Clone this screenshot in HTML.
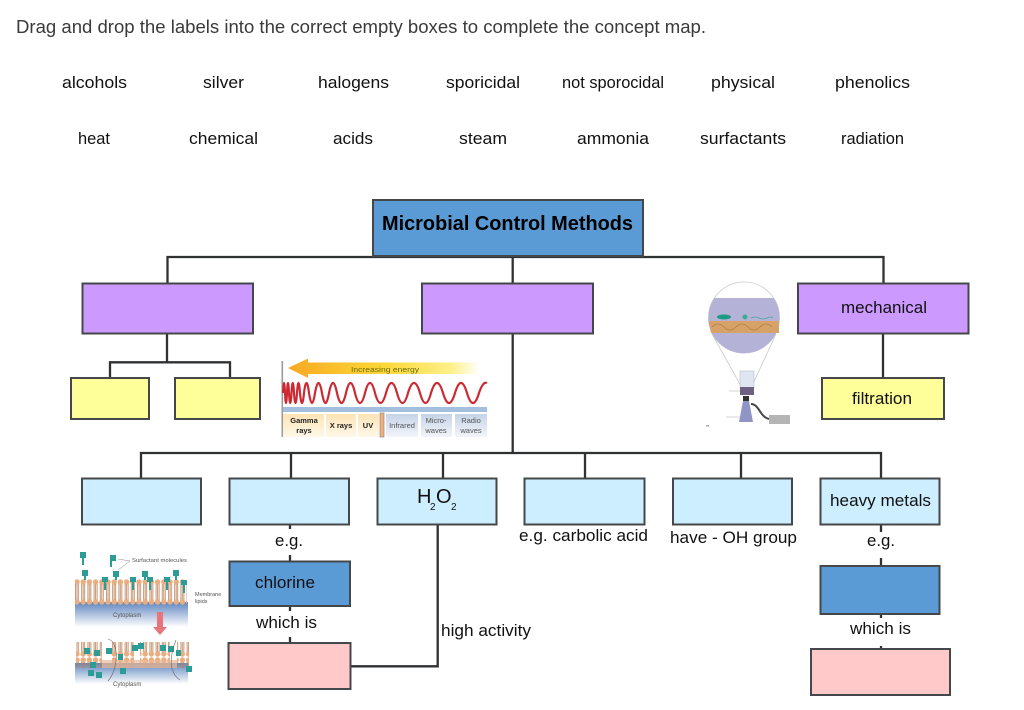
<!DOCTYPE html>
<html><head><meta charset="utf-8"><style>
html,body{margin:0;padding:0;background:#fff;width:1024px;height:710px;overflow:hidden}
svg{display:block}
text{font-family:"Liberation Sans",sans-serif;fill:#111}
.l{font-size:17px;text-anchor:start}
.b rect{stroke:#45484a;stroke-width:2}
.c path{fill:none;stroke:#2f3133;stroke-width:2.3}
</style></head><body>
<svg width="1024" height="710" viewBox="0 0 1024 710" xmlns="http://www.w3.org/2000/svg">
<defs>
<filter id="bl" x="-5%" y="-5%" width="110%" height="110%"><feGaussianBlur stdDeviation="0.35"/></filter>
<linearGradient id="ar" x1="0" x2="1" y1="0" y2="0"><stop offset="0" stop-color="#f7a823"/><stop offset=".5" stop-color="#fdd835"/><stop offset=".85" stop-color="#fdf08a"/><stop offset="1" stop-color="#fff"/></linearGradient>
<linearGradient id="warm" x1="0" x2="0" y1="0" y2="1"><stop offset="0" stop-color="#fde3b4"/><stop offset="1" stop-color="#fff8ea"/></linearGradient>
<linearGradient id="cool" x1="0" x2="0" y1="0" y2="1"><stop offset="0" stop-color="#c6d3e8"/><stop offset="1" stop-color="#f2f5fa"/></linearGradient>
<linearGradient id="cyto" x1="0" x2="0" y1="0" y2="1"><stop offset="0" stop-color="#5f86c0"/><stop offset="1" stop-color="#fff"/></linearGradient>
<pattern id="lip" width="6.2" height="26" patternUnits="userSpaceOnUse" x="74" y="579">
<path d="M1.500 4v18M3 4v18M4.500 4v18" stroke="#b97f55" stroke-width=".8"/>
<circle cx="3" cy="3" r="2.7" fill="#e8ad80"/><circle cx="3" cy="23" r="2.7" fill="#e8ad80"/></pattern>
</defs>

<text x="16" y="33" font-size="18" textLength="690" lengthAdjust="spacingAndGlyphs" style="fill:#3a3a3a">Drag and drop the labels into the correct empty boxes to complete the concept map.</text>

<text class="l" x="62" y="88" textLength="65" lengthAdjust="spacingAndGlyphs">alcohols</text>
<text class="l" x="203" y="88" textLength="41" lengthAdjust="spacingAndGlyphs">silver</text>
<text class="l" x="318" y="88" textLength="71" lengthAdjust="spacingAndGlyphs">halogens</text>
<text class="l" x="446" y="88" textLength="74" lengthAdjust="spacingAndGlyphs">sporicidal</text>
<text class="l" x="562" y="88" textLength="102" lengthAdjust="spacingAndGlyphs">not sporocidal</text>
<text class="l" x="711" y="88" textLength="64" lengthAdjust="spacingAndGlyphs">physical</text>
<text class="l" x="835" y="88" textLength="75" lengthAdjust="spacingAndGlyphs">phenolics</text>
<text class="l" x="78" y="144" textLength="32" lengthAdjust="spacingAndGlyphs">heat</text>
<text class="l" x="189" y="144" textLength="69" lengthAdjust="spacingAndGlyphs">chemical</text>
<text class="l" x="333" y="144" textLength="40" lengthAdjust="spacingAndGlyphs">acids</text>
<text class="l" x="459" y="144" textLength="48" lengthAdjust="spacingAndGlyphs">steam</text>
<text class="l" x="577" y="144" textLength="72" lengthAdjust="spacingAndGlyphs">ammonia</text>
<text class="l" x="700" y="144" textLength="86" lengthAdjust="spacingAndGlyphs">surfactants</text>
<text class="l" x="841" y="144" textLength="63" lengthAdjust="spacingAndGlyphs">radiation</text>

<!-- spectrum illustration -->
<g filter="url(#bl)">
<rect x="281.500" y="361" width="1.600" height="76" fill="#9a9a9a"/>
<path d="M288 368L308 358.500V362.500H480V374H308V378Z" fill="url(#ar)"/>
<text x="351" y="372" font-size="7.500" textLength="68" lengthAdjust="spacingAndGlyphs" style="fill:#6b6a10">Increasing energy</text>
<path fill="none" stroke="#cc2a33" stroke-width="2.200" d="M283 393Q284 373 285 393Q286 413 287 393Q288 373 289 393Q290.200 413 291.500 393Q292.700 373 294 393Q295.500 413 297 393Q298.500 373 300 393Q302 413 304 393Q306.500 373 309 393Q312 413 315 393Q318.500 373 322 393Q325.500 413 329 393Q333 373 337 393Q341.500 413 346 393Q350.500 373 355 393Q360 413 365 393Q370 373 375 393Q380.500 413 386 393Q391.500 373 397 393Q402.500 413 408 393Q414 373 420 393Q425.500 413 431 393Q437 373 443 393Q449 413 455 393Q461 373 467 393Q473 413 479 393Q483 381 487 383"/>
<rect x="283" y="407" width="204" height="5" fill="#a3bfdd"/>
<rect x="283" y="414" width="41" height="23" fill="url(#warm)"/>
<rect x="326" y="414" width="30" height="23" fill="url(#warm)"/>
<rect x="358" y="414" width="21" height="23" fill="url(#warm)"/>
<rect x="380" y="413" width="4" height="24" fill="#f0ae7c" stroke="#8a8a8a" stroke-width=".7"/>
<rect x="386" y="414" width="32" height="23" fill="url(#cool)"/>
<rect x="421" y="414" width="31" height="23" fill="url(#cool)"/>
<rect x="455" y="414" width="32" height="23" fill="url(#cool)"/>
<g font-size="7.500" text-anchor="middle">
<text x="304" y="423" font-weight="bold" style="fill:#222">Gamma</text>
<text x="304" y="433" font-weight="bold" style="fill:#222">rays</text>
<text x="341" y="428" font-weight="bold" style="fill:#222">X rays</text>
<text x="368" y="428" font-weight="bold" style="fill:#222">UV</text>
<text x="402" y="428" style="fill:#555">Infrared</text>
<text x="436" y="423" style="fill:#555">Micro-</text>
<text x="436" y="433" style="fill:#555">waves</text>
<text x="471" y="423" style="fill:#555">Radio</text>
<text x="471" y="433" style="fill:#555">waves</text>
</g>
</g>

<!-- filter illustration -->
<g filter="url(#bl)">
<path d="M712 334L741 386M776 334L752 386" stroke="#c9c9c9" stroke-width=".8" fill="none"/>
<circle cx="744" cy="317.500" r="35.500" fill="#fff" stroke="#c9c9c9" stroke-width=".8"/>
<path d="M714.500 298A35.500 35.500 0 1 0 773.500 298Z" fill="#b4b2d6"/>
<path d="M709 321H779V333H711Z" fill="#d6a268"/>
<path d="M712 327q6 -6 12 0t12 0t12 0t12 0t12 0" stroke="#b27f4a" fill="none" stroke-width=".8"/>
<ellipse cx="724" cy="317" rx="7" ry="2.500" fill="#1f9a82"/>
<circle cx="745" cy="317" r="2.500" fill="#3cac96"/>
<path d="M751 318q4 -2 8 0t8 0t6 0" stroke="#4aa6a0" fill="none" stroke-width=".8"/>
<rect x="740" y="371" width="14" height="17" fill="#dfe6f2" stroke="#b8bdcc" stroke-width=".6"/>
<rect x="740" y="387" width="14" height="8" fill="#6d6180"/>
<rect x="743" y="396" width="6" height="5" fill="#333"/>
<path d="M743 401H749L753 422H739Z" fill="#8f95c4"/>
<path d="M751 404C760 404 760 420 772 419" stroke="#444" stroke-width="2" fill="none"/>
<rect x="769" y="415" width="21" height="9" fill="#b5b5b5"/>
<path d="M729 391H740M726 417H741" stroke="#aaa" stroke-width=".5"/>
<rect x="706" y="425" width="3" height="1.500" fill="#aaa"/>
</g>

<!-- surfactant illustration -->
<g filter="url(#bl)">
<rect x="75" y="602" width="113" height="25" fill="url(#cyto)"/>
<rect x="75" y="579" width="112" height="26" fill="url(#lip)"/>
<g fill="#2d9c96">
<rect x="80" y="552" width="6" height="6"/><rect x="82" y="558" width="2" height="7"/>
<rect x="110" y="555" width="6" height="6"/><rect x="110" y="561" width="2" height="6"/>
<rect x="82" y="570" width="6" height="6"/><rect x="84" y="576" width="2" height="4"/>
<rect x="113" y="571" width="6" height="6"/><rect x="115" y="577" width="2" height="3"/>
<rect x="142" y="571" width="6" height="6"/><rect x="144" y="577" width="2" height="3"/>
<rect x="173" y="570" width="6" height="6"/><rect x="175" y="576" width="2" height="4"/>
<rect x="102" y="577" width="6" height="5"/><rect x="104" y="582" width="2" height="8"/>
<rect x="130" y="577" width="6" height="5"/><rect x="132" y="582" width="2" height="8"/>
<rect x="147" y="577" width="6" height="5"/><rect x="149" y="582" width="2" height="8"/>
<rect x="164" y="577" width="6" height="5"/><rect x="166" y="582" width="2" height="8"/>
<rect x="181" y="580" width="6" height="5"/><rect x="183" y="585" width="2" height="8"/>
</g>
<path d="M118 559L130 561L118 570" stroke="#888" stroke-width=".5" fill="none"/>
<text x="132" y="562" font-size="5.800" textLength="55" lengthAdjust="spacingAndGlyphs" style="fill:#555">Surfactant molecules</text>
<text x="195" y="596" font-size="5.500" style="fill:#555">Membrane</text>
<text x="195" y="603" font-size="5.500" style="fill:#555">lipids</text>
<text x="113" y="617" font-size="6" style="fill:#555">Cytoplasm</text>
<path d="M157 612H163V627H167L160 635L153 627H157Z" fill="#e8747c"/>
<rect x="75" y="663" width="113" height="21" fill="url(#cyto)"/>
<rect x="76" y="642" width="26" height="26" fill="url(#lip)"/>
<rect x="112" y="642" width="22" height="26" fill="url(#lip)"/>
<rect x="140" y="642" width="30" height="26" fill="url(#lip)"/>
<rect x="177" y="642" width="12" height="26" fill="url(#lip)"/>
<rect x="102" y="660" width="75" height="8" fill="#e8b898" opacity=".7"/>
<g fill="#2d9c96">
<rect x="84" y="648" width="6" height="6"/><rect x="94" y="650" width="6" height="6"/><rect x="90" y="662" width="6" height="6"/><rect x="88" y="670" width="6" height="6"/><rect x="96" y="672" width="6" height="6"/>
<rect x="106" y="648" width="6" height="6"/><rect x="118" y="654" width="5" height="6"/><rect x="120" y="668" width="6" height="6"/>
<rect x="132" y="645" width="6" height="6"/><rect x="138" y="643" width="6" height="6"/><rect x="160" y="645" width="6" height="6"/><rect x="168" y="646" width="6" height="6"/><rect x="176" y="650" width="5" height="6"/><rect x="186" y="666" width="6" height="6"/>
</g>
<path d="M108 639C120 642 118 670 108 681M176 640C170 655 168 672 180 680" stroke="#666" stroke-width=".6" fill="none"/>
<text x="113" y="686" font-size="6" style="fill:#555">Cytoplasm</text>
</g>

<!-- connectors -->
<g class="c">
<path d="M167.500 283V257H883.500V283"/>
<path d="M512.700 256V283"/>
<path d="M512.700 334V453"/>
<path d="M167 334V362.300M110 378V362.300H230V378"/>
<path d="M883 334V378"/>
<path d="M141 478V453H881V478"/>
<path d="M291 453V478M443 453V478M585 453V478M741 453V480"/>
<path d="M437.700 525V666.300H351"/>
<path d="M290 525V529M290 555V561M290 606V611M290 637V643"/>
<path d="M881 525V532M881 558V566M881 614V618M881 646V649"/>
</g>

<!-- boxes -->
<g class="b">
<rect x="373" y="200" width="270" height="56" fill="#5b9bd5"/>
<rect x="82.500" y="283.500" width="170.500" height="50" fill="#cc99ff"/>
<rect x="422" y="283.500" width="171" height="50" fill="#cc99ff"/>
<rect x="798" y="283.500" width="170.500" height="50" fill="#cc99ff"/>
<rect x="71" y="378" width="78" height="41" fill="#ffff99"/>
<rect x="175" y="378" width="85" height="41" fill="#ffff99"/>
<rect x="822" y="378" width="122" height="41" fill="#ffff99"/>
<rect x="82" y="478.500" width="119" height="46" fill="#cceeff"/>
<rect x="229.500" y="478.500" width="119.500" height="46" fill="#cceeff"/>
<rect x="377.500" y="478.500" width="119" height="46" fill="#cceeff"/>
<rect x="524.500" y="478.500" width="120" height="46" fill="#cceeff"/>
<rect x="673" y="478.500" width="119" height="46" fill="#cceeff"/>
<rect x="820.500" y="478.500" width="119" height="46" fill="#cceeff"/>
<rect x="229.500" y="561.500" width="120.500" height="44.500" fill="#5b9bd5"/>
<rect x="820.500" y="566" width="119" height="48" fill="#5b9bd5"/>
<rect x="228.500" y="643" width="122" height="46" fill="#ffc9c9"/>
<rect x="811" y="649" width="139" height="46" fill="#ffc9c9"/>
</g>

<!-- labels -->
<text x="382" y="230" font-size="20" font-weight="bold" textLength="251" lengthAdjust="spacingAndGlyphs" style="fill:#000">Microbial Control Methods</text>
<text class="l" x="841" y="313" textLength="86" lengthAdjust="spacingAndGlyphs">mechanical</text>
<text class="l" x="852" y="404" textLength="60" lengthAdjust="spacingAndGlyphs">filtration</text>
<text class="l" x="830" y="506" textLength="101" lengthAdjust="spacingAndGlyphs">heavy metals</text>
<text x="417" y="503" font-size="20">H</text>
<text x="430" y="510" font-size="10">2</text>
<text x="436" y="503" font-size="20">O</text>
<text x="451" y="510" font-size="10">2</text>
<text class="l" x="275" y="546" textLength="28" lengthAdjust="spacingAndGlyphs">e.g.</text>
<text class="l" x="255" y="588" textLength="60" lengthAdjust="spacingAndGlyphs">chlorine</text>
<text class="l" x="256" y="628" textLength="61" lengthAdjust="spacingAndGlyphs">which is</text>
<text class="l" x="441" y="636" textLength="90" lengthAdjust="spacingAndGlyphs">high activity</text>
<text class="l" x="519" y="541" textLength="129" lengthAdjust="spacingAndGlyphs">e.g. carbolic acid</text>
<text class="l" x="670" y="543" textLength="127" lengthAdjust="spacingAndGlyphs">have - OH group</text>
<text class="l" x="867" y="546" textLength="28" lengthAdjust="spacingAndGlyphs">e.g.</text>
<text class="l" x="850" y="634" textLength="61" lengthAdjust="spacingAndGlyphs">which is</text>
</svg>
</body></html>
